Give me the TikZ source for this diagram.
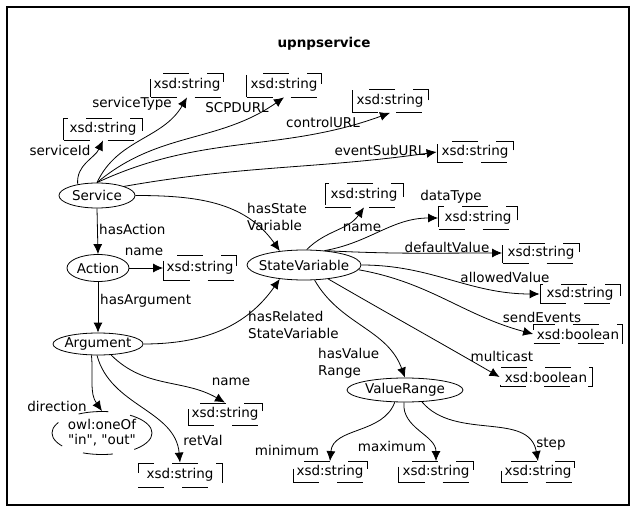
\documentclass[tikz,border=0pt]{standalone}
\usepackage{fontspec}
\setmainfont{DejaVu Sans}
\newfontfamily\plainfont{DejaVu Sans}
\usetikzlibrary{shapes.geometric,arrows.meta}
\begin{document}
\begin{tikzpicture}[x=1pt,y=-1pt,
  every node/.style={font=\fontsize{13.5}{17}\selectfont, inner sep=0pt},
  cls/.style={ellipse, draw, line width=0.8pt, inner xsep=-12pt, inner ysep=-4pt},
  dt/.style={draw, line width=0.8pt, dash pattern=on 26pt off 18pt, minimum height=22pt, minimum width=75pt},
  rel/.style={line width=0.8pt, -{Latex[length=10pt,width=9pt]}},
  ml/.style={align=left, anchor=west},
]
\useasboundingbox (0,0) rectangle (637,513);
\draw[line width=1.3pt] (7,7) rectangle (629,505);

\node[font=\bfseries\fontsize{13.5}{17}\selectfont] (title) at (324,44) {upnpservice};

% classes
\node[cls, minimum width=76pt, minimum height=25pt] (svc) at (97,195.5) {Service};
\node[cls, minimum width=62pt, minimum height=27pt] (act) at (98,268) {Action};
\node[cls, minimum width=90pt, minimum height=22pt] (arg) at (98,344) {Argument};
\node[cls, minimum width=114pt, minimum height=30pt] (sv) at (304,265) {StateVariable};
\node[cls, minimum width=116pt, minimum height=24pt] (vr) at (405,390) {ValueRange};
\node[ellipse, draw, line width=0.8pt, dash pattern=on 30pt off 22pt, minimum width=100pt, minimum height=43pt, inner xsep=-14pt, inner ysep=-8pt, align=center, font=\plainfont\fontsize{13.5}{15}\selectfont] (owl) at (102,433) {owl:oneOf\\"in", "out"};

% datatype boxes
\node[dt, minimum width=79pt] (bsid) at (103,129) {xsd:string};
\node[dt, minimum width=73pt, minimum height=24pt] (bstype) at (187,85) {xsd:string};
\node[dt, minimum height=24pt] (bscpd) at (284,85) {xsd:string};
\node[dt, minimum width=76pt, minimum height=23pt] (bctrl) at (390,101) {xsd:string};
\node[dt, minimum width=76pt, minimum height=21pt] (bevt) at (475,152) {xsd:string};
\node[dt, minimum width=73pt, minimum height=25pt] (bactname) at (200,268) {xsd:string};
\node[dt, minimum width=78pt, minimum height=24pt] (bsvname) at (364,195) {xsd:string};
\node[dt, minimum width=79pt, minimum height=23pt] (bdtype) at (478,218) {xsd:string};
\node[dt, minimum width=77pt, minimum height=20pt] (bdval) at (541,253) {xsd:string};
\node[dt, minimum width=80pt, minimum height=19pt] (baval) at (580,294) {xsd:string};
\node[dt, minimum width=89pt, minimum height=19pt] (bsend) at (578,334) {xsd:boolean};
\node[dt, minimum width=92pt, minimum height=19pt] (bmulti) at (546,377) {xsd:boolean};
\node[dt, minimum width=74pt] (bargname) at (225,414) {xsd:string};
\node[dt, minimum width=84pt, minimum height=24pt] (bret) at (180,475) {xsd:string};
\node[dt, minimum width=74pt, minimum height=21pt] (bmin) at (330,472) {xsd:string};
\node[dt, minimum width=75pt, minimum height=21pt] (bmax) at (436,472) {xsd:string};
\node[dt, minimum width=73pt, minimum height=21pt] (bstep) at (538,472) {xsd:string};

% labels
\node (lsid) at (60,150) {serviceId};
\node (lstype) at (132,104) {serviceType};
\node (lscpd) at (237,108) {SCPDURL};
\node (lctrl) at (323,122) {controlURL};
\node (levt) at (380,150) {eventSubURL};
\node[anchor=west] (lhasact) at (99,229) {hasAction};
\node (lactname) at (144,252) {name};
\node[anchor=west] (lhasarg) at (100,301) {hasArgument};
\node[ml] (lhassv) at (247,217) {hasState\\Variable};
\node[ml] (lhasrel) at (248,325) {hasRelated\\StateVariable};
\node (lsvname) at (362,228) {name};
\node (ldtype) at (451,197) {dataType};
\node (ldval) at (447,247) {defaultValue};
\node (laval) at (505,277) {allowedValue};
\node (lsend) at (542,317) {sendEvents};
\node (lmulti) at (502,356) {multicast};
\node[ml] (lhasvr) at (318,363) {hasValue\\Range};
\node (lmin) at (287,450) {minimum};
\node (lmax) at (392,446) {maximum};
\node (lstep) at (551,444) {step};
\node (ldir) at (57,406) {direction};
\node (lret) at (203,440) {retVal};
\node (largname) at (231,382) {name};

% connectors
\draw[rel] (svc.150) to[out=95,in=245] (bsid.south);
\draw[rel] (svc.north) to[out=65,in=240] (bstype.south);
\draw[rel] (svc.north) to[out=40,in=215] (bscpd.south);
\draw[rel] (svc.north) to[out=25,in=200] (bctrl.south);
\draw[rel] (svc.north east) to[out=10,in=188] (bevt.west);
\draw[rel] (svc.south) -- (act.north);
\draw[rel] (act.east) -- (bactname.west);
\draw[rel] (act.south) -- (arg.north);
\draw[rel] (svc.east) to[out=0,in=125] (sv.150);
\draw[rel] (arg.east) to[out=0,in=235] (sv.210);
\draw[rel] (sv.80) to[out=45,in=235] (bsvname.south);
\draw[rel] (sv.35) to[out=10,in=180] (bdtype.west);
\draw[rel] (sv.35) to[out=-3,in=180] (bdval.west);
\draw[rel] (sv.east) to[out=0,in=180] (baval.west);
\draw[rel] (sv.-5) to[out=-10,in=165] (bsend.west);
\draw[rel] (sv.-30) to[out=-30,in=150] (bmulti.west);
\draw[rel] (sv.-55) to[out=-60,in=110] (vr.north);
\draw[rel] (vr.-130) to[out=-110,in=85] (bmin.north);
\draw[rel] (vr.-95) to[out=-95,in=90] (bmax.north);
\draw[rel] (vr.-35) to[out=-50,in=100] (bstep.north);
\draw[rel] (arg.-120) to[out=-85,in=125] (owl.north);
\draw[rel] (arg.-95) to[out=-75,in=95] (bret.north);
\draw[rel] (arg.-40) to[out=-45,in=150] (bargname.north);
\end{tikzpicture}
\end{document}
